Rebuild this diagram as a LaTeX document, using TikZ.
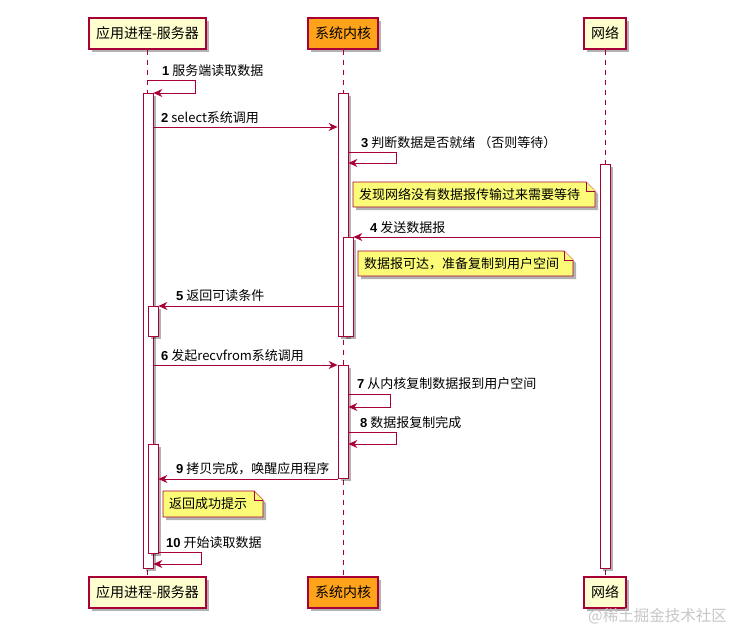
\documentclass[tikz,border=0pt]{standalone}
\usepackage{fontspec}
\setmainfont{Noto Sans CJK SC}
\newfontfamily\numf{Liberation Sans}
\usetikzlibrary{arrows.meta,shadows}
\definecolor{umlred}{HTML}{A80036}
\definecolor{partfill}{HTML}{FEFECE}
\definecolor{kernfill}{HTML}{FFA31A}
\definecolor{notefill}{HTML}{FBFB77}
\definecolor{wmgray}{HTML}{C6C6C6}
\newcommand\msgnum[1]{{\numf\bfseries #1}}
\tikzset{
  myshadow/.style={drop shadow={shadow xshift=3pt,shadow yshift=-3pt,opacity=.3,fill=black}},
  part/.style={draw=umlred, line width=1.2pt, fill=partfill, minimum height=31pt,
    inner sep=0pt, font=\fontsize{14}{16}\selectfont, myshadow},
  life/.style={draw=umlred, dash pattern=on 5pt off 5pt, line width=0.8pt},
  actbar/.style={draw=umlred, fill=white, line width=0.8pt, minimum width=10pt,
    inner sep=0pt, anchor=north, myshadow},
  msgarrow/.style={draw=umlred, line width=0.8pt, -{Stealth[length=9pt,width=8pt,inset=3pt]}},
  msglabel/.style={anchor=west, inner sep=0pt, font=\fontsize{13}{15}\selectfont},
  notebox/.style={draw=umlred, fill=notefill, line width=0.8pt, line join=miter},
  notetext/.style={anchor=west, inner sep=0pt, font=\fontsize{13}{15}\selectfont},
}
\begin{document}
\begin{tikzpicture}[x=1pt,y=-1pt]
\useasboundingbox (0,0) rectangle (748,642);
% participants
\node[part, minimum width=117pt] (app) at (147.5,33.5) {应用进程-服务器};
\node[part, minimum width=70pt, fill=kernfill] (kern) at (343,33.5) {系统内核};
\node[part, minimum width=42pt] (net) at (605,33.5) {网络};
\node[part, minimum width=117pt] (appB) at (147.5,592.5) {应用进程-服务器};
\node[part, minimum width=70pt, fill=kernfill] (kernB) at (343,592.5) {系统内核};
\node[part, minimum width=42pt] (netB) at (605,592.5) {网络};
% lifelines
\draw[life] (app.south) -- (appB.north);
\draw[life] (kern.south) -- (kernB.north);
\draw[life] (net.south) -- (netB.north);
% activation bars
\node[actbar, minimum height=475pt] (A1) at (148,93) {};
\node[actbar, minimum height=30pt] (A2) at (153,306) {};
\node[actbar, minimum height=109pt] (A3) at (153,444) {};
\node[actbar, minimum height=243pt] (K1) at (343,93) {};
\node[actbar, minimum height=99pt] (K2) at (348,237) {};
\node[actbar, minimum height=113pt] (K3) at (343,365) {};
\node[actbar, minimum height=404pt] (N1) at (605,164) {};
% message y levels
\coordinate (y1a) at (195,80);  \coordinate (y1b) at (195,93);
\coordinate (y2) at (0,127);
\coordinate (y3a) at (396,152); \coordinate (y3b) at (396,163);
\coordinate (y4) at (0,237);
\coordinate (y5) at (0,306);
\coordinate (y6) at (0,365);
\coordinate (y7a) at (390,394); \coordinate (y7b) at (390,407);
\coordinate (y8a) at (396,432); \coordinate (y8b) at (396,444);
\coordinate (y9) at (0,479);
\coordinate (y10a) at (201,552); \coordinate (y10b) at (201,564);
% messages
\draw[msgarrow] (app.south |- y1a) -- (y1a) -- (y1b) -- (A1.east |- y1b);
\node[msglabel] (l1) at (162,71) {\msgnum{1} 服务端读取数据};
\draw[msgarrow] (A1.east |- y2) -- (K1.west |- y2);
\node[msglabel] (l2) at (161,118) {\msgnum{2} select系统调用};
\draw[msgarrow] (K1.east |- y3a) -- (y3a) -- (y3b) -- (K1.east |- y3b);
\node[msglabel] (l3) at (361,143) {\msgnum{3} 判断数据是否就绪\ （否则等待）};
% note 1
\draw[notebox, myshadow] (353,182) -- (586,182) -- (595,191) -- (595,207) -- (353,207) -- cycle;
\draw[notebox] (586,182) -- (586,191) -- (595,191);
\node[notetext] (n1) at (359,194.5) {发现网络没有数据报传输过来需要等待};
\draw[msgarrow] (N1.west |- y4) -- (K2.east |- y4);
\node[msglabel] (l4) at (370,228) {\msgnum{4} 发送数据报};
% note 2
\draw[notebox, myshadow] (358,251) -- (564,251) -- (573,260) -- (573,276) -- (358,276) -- cycle;
\draw[notebox] (564,251) -- (564,260) -- (573,260);
\node[notetext] (n2) at (364,263.5) {数据报可达，准备复制到用户空间};
\draw[msgarrow] (K2.west |- y5) -- (A2.east |- y5);
\node[msglabel] (l5) at (176,296) {\msgnum{5} 返回可读条件};
\draw[msgarrow] (A1.east |- y6) -- (K3.west |- y6);
\node[msglabel] (l6) at (161,356) {\msgnum{6} 发起recvfrom系统调用};
\draw[msgarrow] (K3.east |- y7a) -- (y7a) -- (y7b) -- (K3.east |- y7b);
\node[msglabel] (l7) at (357,384) {\msgnum{7} 从内核复制数据报到用户空间};
\draw[msgarrow] (K3.east |- y8a) -- (y8a) -- (y8b) -- (K3.east |- y8b);
\node[msglabel] (l8) at (360,423) {\msgnum{8} 数据报复制完成};
\draw[msgarrow] (K3.west |- y9) -- (A3.east |- y9);
\node[msglabel] (l9) at (176,469) {\msgnum{9} 拷贝完成，唤醒应用程序};
% note 3
\draw[notebox, myshadow] (163,491) -- (254,491) -- (263,500) -- (263,517) -- (163,517) -- cycle;
\draw[notebox] (254,491) -- (254,500) -- (263,500);
\node[notetext] (n3) at (169,504) {返回成功提示};
\draw[msgarrow] (A3.east |- y10a) -- (y10a) -- (y10b) -- (A1.east |- y10b);
\node[msglabel] (l10) at (166,543) {\msgnum{10} 开始读取数据};
% watermark
\node[anchor=west, inner sep=0pt, text=wmgray, font=\fontsize{15.5}{17}\selectfont] (wm) at (588,616) {@稀土掘金技术社区};
\end{tikzpicture}
\end{document}
